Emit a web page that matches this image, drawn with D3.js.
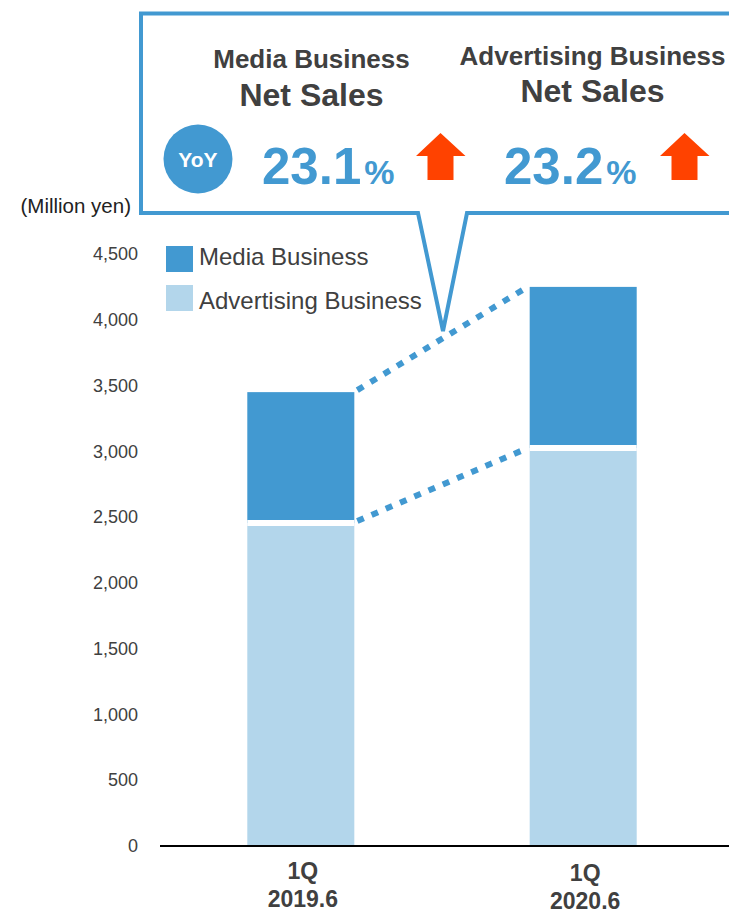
<!DOCTYPE html>
<html>
<head>
<meta charset="utf-8">
<script src="https://cdn.jsdelivr.net/npm/d3@7"></script>
<style>
  html, body { margin: 0; padding: 0; background: #fff; }
  svg { display: block; font-family: "Liberation Sans", Arial, sans-serif; }
</style>
</head>
<body>
<svg id="chart" width="729" height="915"></svg>
<script>
// Quarterly net sales by business (million yen)
const quarters = ["1Q", "1Q"];
const periods = ["2019.6", "2020.6"];
const advertisingSales = [2455, 3025];
const mediaSales = [995, 1225];
const seriesNames = ["Media Business", "Advertising Business"];
const yTicks = [0, 500, 1000, 1500, 2000, 2500, 3000, 3500, 4000, 4500];

// Year-over-year growth shown in the callout
const yoyHeadings = ["Media Business", "Advertising Business"];
const yoyRates = [23.1, 23.2];

const BLUE = "#4299d1";
const LIGHT = "#b3d6eb";
const TEXT = "#404040";
const ARROW = "#ff4200";

const svg = d3.select("#chart");

const x = d3.scaleBand()
  .domain(periods)
  .range([157.5, 726.5])
  .paddingInner(0.621)
  .paddingOuter(0.318);

const y = d3.scaleLinear().domain([0, 4500]).range([846, 254]);

// y axis: labels only
const yAxis = svg.append("g")
  .attr("transform", "translate(160,0)")
  .call(d3.axisLeft(y).tickValues(yTicks).tickSize(0).tickPadding(22).tickFormat(d3.format(",")));
yAxis.select(".domain").remove();
yAxis.selectAll("text")
  .attr("fill", TEXT)
  .style("font-size", "18px")
  .style("font-family", "'Liberation Sans', Arial, sans-serif");

svg.append("text")
  .attr("x", 131).attr("y", 213)
  .attr("text-anchor", "end")
  .attr("fill", "#222")
  .style("font-size", "20.5px")
  .text("(Million yen)");

// stacked bars
const rows = periods.map((p, i) => ({
  period: p,
  quarter: quarters[i],
  ad: advertisingSales[i],
  media: mediaSales[i],
  total: advertisingSales[i] + mediaSales[i]
}));

const bars = svg.append("g");
bars.selectAll("rect.ad").data(rows).join("rect")
  .attr("class", "ad")
  .attr("x", d => x(d.period))
  .attr("width", x.bandwidth())
  .attr("y", d => y(d.ad))
  .attr("height", d => y(0) - y(d.ad))
  .attr("fill", LIGHT);
bars.selectAll("rect.media").data(rows).join("rect")
  .attr("class", "media")
  .attr("x", d => x(d.period))
  .attr("width", x.bandwidth())
  .attr("y", d => y(d.total))
  .attr("height", d => y(d.ad) - y(d.total))
  .attr("fill", BLUE);
// white separator between the two segments
bars.selectAll("line.sep").data(rows).join("line")
  .attr("class", "sep")
  .attr("x1", d => x(d.period))
  .attr("x2", d => x(d.period) + x.bandwidth())
  .attr("y1", d => y(d.ad))
  .attr("y2", d => y(d.ad))
  .attr("stroke", "#fff")
  .attr("stroke-width", 6);

// dotted connectors between the bars
const a = rows[0], b = rows[1];
const connectors = [[a.total, b.total], [a.ad, b.ad]];
svg.append("g").selectAll("line").data(connectors).join("line")
  .attr("x1", x(a.period) + x.bandwidth() + 3)
  .attr("x2", x(b.period) - 2)
  .attr("y1", d => y(d[0]) - 2)
  .attr("y2", d => y(d[1]))
  .attr("stroke", BLUE)
  .attr("stroke-width", 6)
  .attr("stroke-dasharray", "7,8.5");

// baseline
svg.append("line")
  .attr("x1", 160).attr("x2", 729)
  .attr("y1", y(0)).attr("y2", y(0))
  .attr("stroke", "#000").attr("stroke-width", 2);

// category labels
const xl = svg.append("g").selectAll("text").data(rows).join("text")
  .attr("text-anchor", "middle")
  .attr("fill", TEXT)
  .style("font-size", "23px")
  .style("font-weight", "bold");
xl.append("tspan")
  .attr("x", d => x(d.period) + x.bandwidth() / 2 + 2)
  .attr("y", (d, i) => 879 + i * 2)
  .text(d => d.quarter);
xl.append("tspan")
  .attr("x", d => x(d.period) + x.bandwidth() / 2 + 2)
  .attr("y", (d, i) => 907 + i * 2)
  .text(d => d.period);

// legend
const legendColors = [BLUE, LIGHT];
const legendTop = [246, 285];
const legendBase = [265, 309];
const lg = svg.append("g").selectAll("g").data(seriesNames).join("g");
lg.append("rect")
  .attr("x", 166).attr("y", (d, i) => legendTop[i])
  .attr("width", 27).attr("height", 26)
  .attr("fill", (d, i) => legendColors[i]);
lg.append("text")
  .attr("x", 199).attr("y", (d, i) => legendBase[i])
  .attr("fill", TEXT)
  .style("font-size", "24px")
  .text(d => d);

// callout bubble
const bubble = d3.path();
bubble.moveTo(741, 13.5);
bubble.lineTo(141, 13.5);
bubble.lineTo(141, 213);
bubble.lineTo(418, 213);
bubble.lineTo(443, 331);
bubble.lineTo(467, 213);
bubble.lineTo(741, 213);
svg.append("path")
  .attr("d", bubble.toString())
  .attr("fill", "#fff")
  .attr("stroke", BLUE)
  .attr("stroke-width", 4)
  .attr("stroke-linejoin", "miter");

const cols = [
  { cx: 311.5, h1: 68, h2: 106, numX: 262, arrowX: 416 },
  { cx: 592.5, h1: 65, h2: 102, numX: 504, arrowX: 660 }
];

const cg = svg.append("g").selectAll("g").data(yoyHeadings).join("g");
cg.append("text")
  .attr("x", (d, i) => cols[i].cx).attr("y", (d, i) => cols[i].h1)
  .attr("text-anchor", "middle").attr("fill", TEXT)
  .style("font-size", "26px").style("font-weight", "bold")
  .text(d => d);
cg.append("text")
  .attr("x", (d, i) => cols[i].cx).attr("y", (d, i) => cols[i].h2)
  .attr("text-anchor", "middle").attr("fill", TEXT)
  .style("font-size", "32px").style("font-weight", "bold")
  .text("Net Sales");
const num = cg.append("text")
  .attr("x", (d, i) => cols[i].numX).attr("y", 183.5)
  .attr("fill", BLUE).style("font-weight", "bold");
num.append("tspan").style("font-size", "51px").text((d, i) => d3.format(".1f")(yoyRates[i]));
num.append("tspan").attr("dx", 3).style("font-size", "34px").text("%");

// up arrows
cg.append("path")
  .attr("transform", (d, i) => `translate(${cols[i].arrowX},133)`)
  .attr("d", "M24.5,0 L49.5,23 L37.5,23 L37.5,47 L11.5,47 L11.5,23 L0,23 Z")
  .attr("fill", ARROW);

// YoY badge
svg.append("circle").attr("cx", 198).attr("cy", 159).attr("r", 34.5).attr("fill", BLUE);
svg.append("text")
  .attr("x", 198).attr("y", 167)
  .attr("text-anchor", "middle").attr("fill", "#fff")
  .style("font-size", "21px").style("font-weight", "bold")
  .text("YoY");
</script>
</body>
</html>
